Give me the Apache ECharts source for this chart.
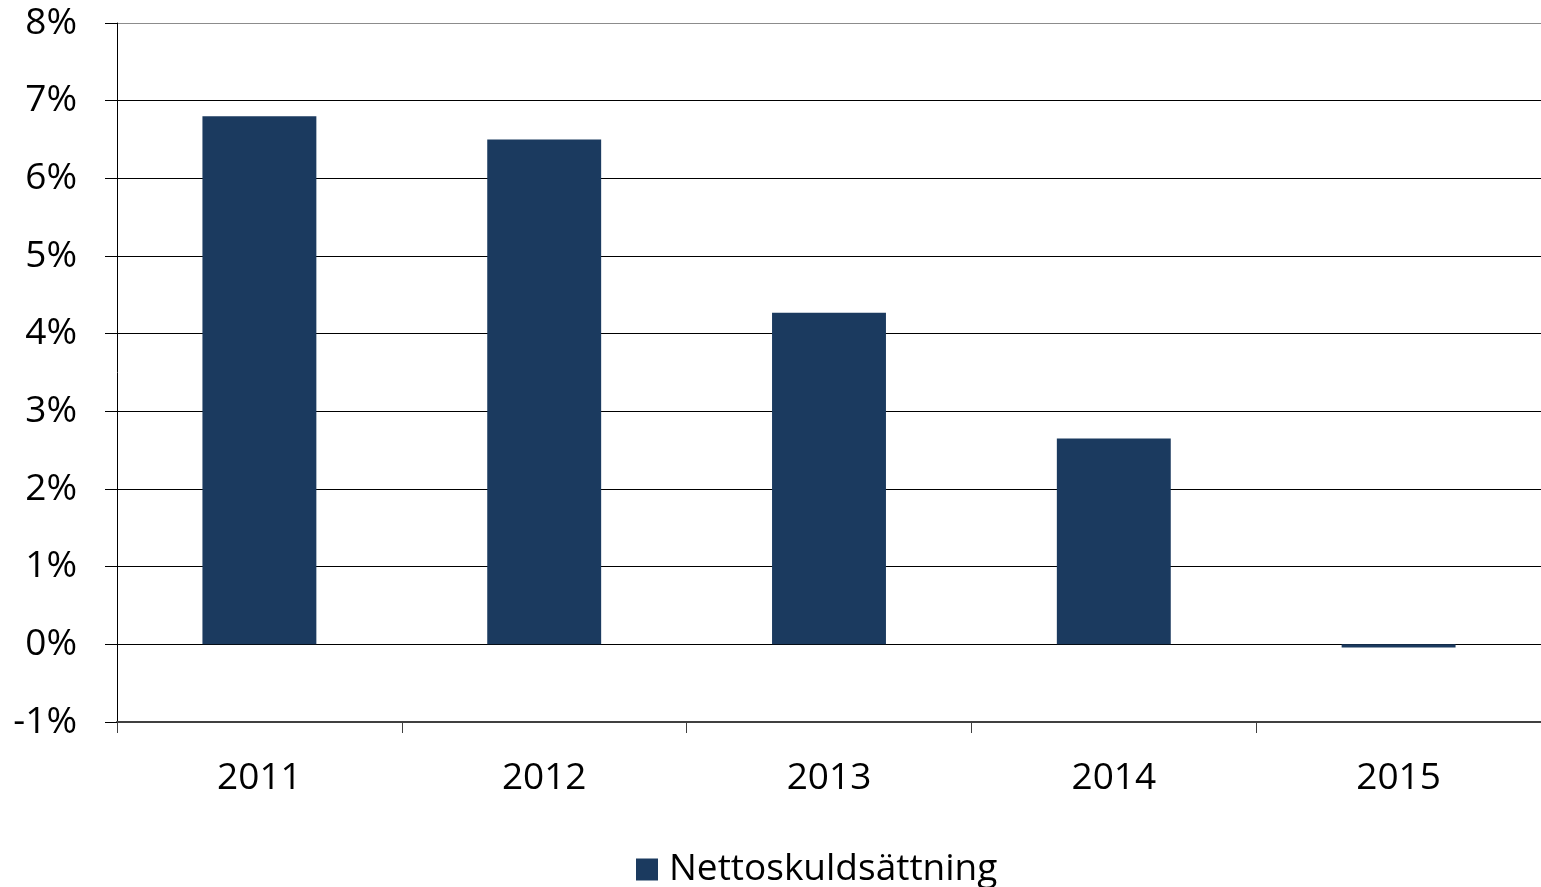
<!DOCTYPE html>
<html>
<head>
<meta charset="utf-8">
<script src="https://cdn.jsdelivr.net/npm/echarts@6/dist/echarts.min.js"></script>
<style>
  html, body { margin: 0; padding: 0; background: #fff; }
  #chart { width: 1541px; height: 887px; }
</style>
</head>
<body>
<div id="chart"></div>
<script>
const years = ['2011', '2012', '2013', '2014', '2015'];
const nettoskuld = [6.8, 6.5, 4.27, 2.65, -0.04];
const seriesName = 'Nettoskuldsättning';

const chart = echarts.init(document.getElementById('chart'));
const font = '"Open Sans", sans-serif';

// gridlines: -1% .. 8%, the top one is grey
const gridColors = ['#000', '#000', '#000', '#000', '#000', '#000', '#000', '#000', '#000', '#8c8c8c'];

const option = {
  animation: false,
  textStyle: { fontFamily: font },
  grid: { left: 117, right: 0, top: 23, bottom: 165 },
  legend: {
    bottom: -6,
    left: 631,
    itemWidth: 22,
    itemHeight: 22,
    itemGap: 10,
    icon: 'rect',
    textStyle: { fontSize: 37, color: '#000', fontFamily: font, padding: [0, 0, 0, 6] },
    data: [seriesName]
  },
  xAxis: {
    type: 'category',
    data: years,
    axisLine: { onZero: false, lineStyle: { color: '#404040', width: 2 } },
    axisTick: { show: true, length: 11, lineStyle: { color: '#404040', width: 1 } },
    axisLabel: { fontSize: 37, color: '#000', margin: 38, fontFamily: font }
  },
  yAxis: {
    type: 'value',
    min: -1,
    max: 8,
    interval: 1,
    axisLine: { show: true, lineStyle: { color: '#000', width: 1 } },
    axisTick: { show: true, length: 12, lineStyle: { color: '#000' } },
    axisLabel: { fontSize: 37, color: '#000', margin: 40, formatter: '{value}%', fontFamily: font },
    splitLine: { show: true, lineStyle: { color: gridColors, width: 1 } }
  },
  series: [{
    name: seriesName,
    type: 'bar',
    data: nettoskuld,
    barWidth: '40%',
    itemStyle: { color: '#1b3a5f' }
  }]
};
chart.setOption(option);
</script>
</body>
</html>
